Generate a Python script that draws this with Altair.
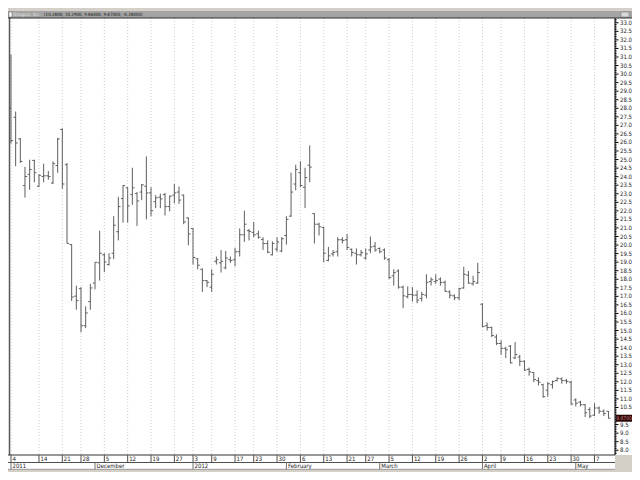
import altair as alt
import numpy as np
import pandas as pd

# ---------------- data ----------------
holidays = ["2011-11-24", "2011-12-26", "2012-01-02", "2012-01-16", "2012-02-20", "2012-04-06"]
trade_dates = [d.strftime("%Y-%m-%d") for d in pd.bdate_range("2011-11-04", "2012-05-10")
               if d.strftime("%Y-%m-%d") not in holidays]

opens = [28.00, 27.47, 26.21, 23.48, 24.14, 24.95, 23.44, 24.01, 24.05, 23.63,
         24.65, 26.76, 24.70, 20.03, 17.01, 17.45, 15.28, 16.69, 17.78, 18.96,
         19.43, 18.86, 19.52, 20.78, 22.72, 23.35, 22.95, 23.01, 23.10, 23.44,
         23.05, 22.54, 22.80, 22.95, 22.25, 22.92, 23.10, 22.92, 21.59, 20.97,
         19.20, 18.58, 17.92, 17.54, 19.05, 18.96, 18.67, 19.14, 19.14, 19.61,
         20.60, 20.84, 20.74, 20.65, 20.33, 20.09, 19.43, 19.76, 19.65, 20.56,
         21.69, 23.57, 24.23, 23.38, 24.67, 21.84, 21.22, 21.03, 19.10, 19.48,
         19.61, 20.31, 20.31, 19.75, 19.52, 19.43, 19.24, 19.71, 19.93, 19.80,
         19.71, 19.14, 18.20, 18.48, 17.54, 16.98, 17.11, 17.07, 16.88, 17.07,
         17.86, 17.86, 18.01, 17.82, 17.26, 17.03, 16.92, 17.49, 18.24, 17.73,
         17.78, 16.54, 15.28, 15.18, 14.62, 14.24, 13.96, 14.09, 13.40, 13.45,
         13.20, 12.73, 12.54, 12.07, 11.83, 11.51, 11.83, 12.07, 12.17, 12.07,
         11.98, 10.94, 10.81, 10.66, 10.38, 10.05, 10.47, 10.28, 10.28]
highs = [31.14, 27.81, 26.25, 24.57, 24.99, 24.99, 24.14, 24.76, 24.33, 24.90,
         26.27, 26.83, 24.80, 20.05, 17.63, 17.54, 16.41, 17.73, 19.00, 20.84,
         19.52, 19.52, 21.69, 22.82, 23.50, 23.38, 24.52, 23.10, 23.57, 25.18,
         23.38, 22.92, 23.01, 23.05, 22.90, 23.57, 23.42, 22.95, 21.62, 21.00,
         19.24, 18.63, 17.95, 18.58, 19.33, 19.71, 19.65, 19.33, 19.84, 20.97,
         22.01, 20.94, 21.35, 20.84, 20.46, 20.27, 20.22, 20.46, 20.46, 21.69,
         24.23, 24.70, 24.90, 24.52, 25.83, 21.87, 21.31, 21.07, 19.89, 19.71,
         20.46, 20.46, 20.65, 19.80, 19.80, 19.71, 19.80, 20.50, 20.18, 19.86,
         19.80, 19.24, 18.58, 18.58, 17.63, 17.58, 17.54, 17.35, 17.26, 18.29,
         18.11, 18.29, 18.11, 17.92, 17.35, 17.11, 17.50, 18.73, 18.48, 18.20,
         18.96, 16.60, 15.47, 15.22, 14.77, 14.43, 14.05, 14.15, 14.33, 13.58,
         13.26, 12.83, 12.58, 12.26, 11.89, 11.98, 12.07, 12.26, 12.26, 12.17,
         12.07, 11.04, 10.89, 10.70, 10.51, 10.75, 10.56, 10.38, 10.29]
lows = [25.93, 24.61, 24.80, 22.78, 23.23, 23.67, 23.39, 23.67, 23.82, 23.57,
        24.23, 23.29, 20.09, 16.73, 16.22, 14.90, 15.14, 16.22, 17.41, 17.92,
        18.42, 18.80, 19.18, 20.27, 21.31, 21.31, 22.35, 21.12, 22.63, 21.50,
        21.69, 22.16, 22.16, 21.73, 21.97, 22.44, 22.41, 21.22, 19.99, 18.86,
        18.58, 17.26, 17.54, 17.26, 18.86, 18.39, 18.58, 18.96, 18.76, 19.33,
        20.18, 20.27, 20.46, 20.37, 19.71, 19.52, 19.39, 19.61, 19.58, 20.03,
        21.65, 23.20, 23.38, 22.16, 23.67, 20.09, 20.56, 18.99, 19.05, 19.33,
        19.33, 20.09, 19.71, 19.33, 18.86, 19.33, 19.14, 19.52, 19.61, 19.52,
        19.14, 18.01, 17.63, 17.45, 16.31, 16.88, 16.69, 16.60, 16.69, 16.88,
        17.63, 17.73, 17.63, 17.26, 16.88, 16.78, 16.78, 17.45, 17.73, 17.63,
        17.73, 15.20, 15.00, 14.62, 14.15, 13.58, 13.39, 13.07, 13.33, 12.92,
        12.64, 12.36, 11.98, 11.79, 11.07, 11.13, 11.60, 12.02, 11.89, 11.89,
        10.66, 10.56, 10.56, 9.94, 9.87, 10.00, 10.13, 10.00, 9.86]
closes = [26.11, 25.97, 24.89, 24.01, 24.42, 24.23, 24.08, 24.05, 24.01, 24.76,
          26.21, 23.57, 20.10, 16.96, 16.75, 15.28, 16.03, 17.49, 18.99, 19.52,
          19.01, 19.24, 21.16, 22.25, 23.48, 22.29, 23.35, 22.58, 23.52, 23.05,
          22.01, 22.76, 22.70, 22.25, 22.86, 23.05, 22.63, 21.35, 20.65, 19.27,
          18.82, 17.92, 17.82, 18.29, 19.14, 19.05, 19.24, 19.09, 19.61, 20.60,
          21.22, 20.80, 20.60, 20.46, 20.09, 19.58, 20.09, 20.18, 20.37, 21.50,
          23.10, 24.42, 23.48, 23.95, 24.56, 21.22, 21.07, 19.52, 19.37, 19.56,
          20.31, 20.27, 19.86, 19.56, 19.43, 19.56, 19.48, 19.89, 19.71, 19.61,
          19.24, 18.11, 18.39, 17.54, 17.03, 17.11, 17.07, 16.78, 17.11, 17.82,
          17.97, 17.92, 17.82, 17.29, 17.07, 16.92, 17.45, 18.29, 17.78, 17.86,
          18.39, 15.24, 15.18, 14.71, 14.24, 13.96, 13.87, 13.11, 13.60, 13.20,
          12.69, 12.58, 12.13, 11.98, 11.13, 11.89, 12.02, 12.20, 12.07, 12.02,
          10.70, 10.75, 10.66, 10.19, 10.00, 10.47, 10.28, 10.15, 9.87]

week_label_dates = ["2011-11-04", "2011-11-14", "2011-11-21", "2011-11-28", "2011-12-05",
                    "2011-12-12", "2011-12-19", "2011-12-27", "2012-01-03", "2012-01-09",
                    "2012-01-17", "2012-01-23", "2012-01-30", "2012-02-06", "2012-02-13",
                    "2012-02-21", "2012-02-27", "2012-03-05", "2012-03-12", "2012-03-19",
                    "2012-03-26", "2012-04-02", "2012-04-09", "2012-04-16", "2012-04-23",
                    "2012-04-30", "2012-05-07"]
week_labels = ["4", "14", "21", "28", "5", "12", "19", "27", "3", "9", "17", "23", "30",
               "6", "13", "21", "27", "5", "12", "19", "26", "2", "9", "16", "23", "30", "7"]
month_label_dates = ["2011-11-04", "2011-12-01", "2012-01-03", "2012-02-01",
                     "2012-03-01", "2012-04-02", "2012-05-01"]
month_labels = ["2011", "December", "2012", "February", "March", "April", "May"]

header_name = "Groupon, Inc."
header_values = "(10.2800, 10.2900, 9.86000, 9.87000, -0.28000)"

price_ticks = [float(round(v, 1)) for v in np.arange(8.0, 33.01, 0.5)]
minor_ticks = [float(round(v, 1)) for v in np.arange(7.8, 33.25, 0.1)
               if abs(v * 2 - round(v * 2)) > 1e-6]

# ---------------- frames ----------------
idx_of = {d: i for i, d in enumerate(trade_dates)}
bars = pd.DataFrame({"date": trade_dates, "open": opens, "high": highs,
                     "low": lows, "close": closes})
bars["idx"] = range(len(bars))
weeks = pd.DataFrame({"idx": [idx_of[d] for d in week_label_dates], "label": week_labels})
months = pd.DataFrame({"idx": [idx_of[d] for d in month_label_dates], "label": month_labels})
last_close = closes[-1]
# labels hidden under the last-price box are not shown (as in the reference)
major_all = pd.DataFrame({"p": price_ticks, "label": [f"{v:.1f}" for v in price_ticks]})
major_lab = major_all[(major_all["p"] - last_close).abs() > 0.3]
minor = pd.DataFrame({"p": minor_ticks})
last = pd.DataFrame({"p": [last_close], "label": [f"{last_close:.4f}"]})
one = pd.DataFrame({"a": [0]})

W, H = 605, 437
PR, PB = 17, 17
FONT = "Liberation Sans Narrow, DejaVu Sans Condensed, Liberation Sans, sans-serif"
BAR = "#5e5e5e"

xs = alt.Scale(domain=[-0.21, 129.4], nice=False, zero=False)
ys = alt.Scale(domain=[7.72, 33.28], nice=False, zero=False)
X = lambda f: alt.X(f, scale=xs, axis=None, title=None)
Y = lambda f: alt.Y(f, scale=ys, axis=None, title=None)

# header band
hdr_light = alt.Chart(one).mark_rect(color="#d4d0c8").encode(
    x=alt.value(-2), x2=alt.value(W + PR), y=alt.value(-10), y2=alt.value(-7))
hdr_band = alt.Chart(one).mark_rect(color="#a4a4a4").encode(
    x=alt.value(-2), x2=alt.value(W + PR), y=alt.value(-7), y2=alt.value(0))
hdr_box = alt.Chart(one).mark_rect(color="#ffffff", stroke="#606060", strokeWidth=0.5).encode(
    x=alt.value(-1), x2=alt.value(2), y=alt.value(-6), y2=alt.value(-1))
hdr_icon = alt.Chart(one).mark_rect(color="#d8d8d8", stroke="#707070", strokeWidth=0.5).encode(
    x=alt.value(W + 6), x2=alt.value(W + 14), y=alt.value(-6), y2=alt.value(-1))
hdr_name = alt.Chart(one).mark_text(align="left", baseline="middle", fontSize=4.5,
                                    font=FONT, color="#e4e4e4").encode(
    x=alt.value(3), y=alt.value(-3.3), text=alt.value(header_name))
hdr_vals = alt.Chart(one).mark_text(align="left", baseline="middle", fontSize=4.5,
                                    font=FONT, color="#111111").encode(
    x=alt.value(34), y=alt.value(-3.3), text=alt.value(header_values))
top_line = alt.Chart(one).mark_rule(color="#303030", strokeWidth=1).encode(
    x=alt.value(-2), x2=alt.value(W + PR), y=alt.value(0))

# grid
grid = alt.Chart(weeks).mark_rule(color="#cccccc", strokeDash=[1, 2], strokeWidth=1).encode(
    x=X("idx:Q"), y=alt.value(0), y2=alt.value(H))

# OHLC
hl = alt.Chart(bars).mark_rule(color=BAR, strokeWidth=1).encode(
    x=X("idx:Q"), y=Y("low:Q"), y2="high:Q")
op = alt.Chart(bars).transform_calculate(xo="datum.idx - 0.45").mark_rule(
    color=BAR, strokeWidth=1).encode(x=X("xo:Q"), x2="idx:Q", y=Y("open:Q"))
cl = alt.Chart(bars).transform_calculate(xc="datum.idx + 0.45").mark_rule(
    color=BAR, strokeWidth=1).encode(x=X("idx:Q"), x2="xc:Q", y=Y("close:Q"))

# left border
left = alt.Chart(one).mark_rule(color="#5a5a5a", strokeWidth=1.5).encode(
    x=alt.value(-0.5), y=alt.value(0), y2=alt.value(H))

# right price axis (drawn by hand)
ydom = alt.Chart(one).mark_rule(color="#000000", strokeWidth=1).encode(
    x=alt.value(W), y=alt.value(0), y2=alt.value(H))
mticks = alt.Chart(minor).mark_rule(color="#000000", strokeWidth=1).encode(
    x=alt.value(W), x2=alt.value(W + 1.5), y=Y("p:Q"))
jticks = alt.Chart(major_all).mark_rule(color="#000000", strokeWidth=1).encode(
    x=alt.value(W), x2=alt.value(W + 3.5), y=Y("p:Q"))
jlabels = alt.Chart(major_lab).mark_text(align="left", baseline="middle", fontSize=6,
                                         font=FONT, color="#222222").encode(
    x=alt.value(W + 5), y=Y("p:Q"), text="label:N")

# last price box
lbox = alt.Chart(last).mark_rect(color="#2a0505", height=7).encode(
    x=alt.value(W + 1), x2=alt.value(W + PR), y=Y("p:Q"))
ltxt = alt.Chart(last).mark_text(align="center", baseline="middle", fontSize=5,
                                 font=FONT, color="#d08080").encode(
    x=alt.value(W + 9), y=Y("p:Q"), text="label:N")

# bottom date axis
r1, r2, r3 = H + 7.5, H + 14.3, H + PB
bot_gray = alt.Chart(one).mark_rect(color="#d4d0c8").encode(
    x=alt.value(-2), x2=alt.value(W + PR), y=alt.value(r2), y2=alt.value(r3))
corner = alt.Chart(one).mark_rect(color="#d4d0c8").encode(
    x=alt.value(W), x2=alt.value(W + PR), y=alt.value(H), y2=alt.value(r3))
hl0 = alt.Chart(one).mark_rule(color="#303030", strokeWidth=1).encode(
    x=alt.value(-2), x2=alt.value(W), y=alt.value(H))
hl1 = alt.Chart(one).mark_rule(color="#505050", strokeWidth=1).encode(
    x=alt.value(-2), x2=alt.value(W), y=alt.value(r1))
hl2 = alt.Chart(one).mark_rule(color="#9a9a9a", strokeWidth=1).encode(
    x=alt.value(-2), x2=alt.value(W), y=alt.value(r2))
wsep = alt.Chart(weeks).mark_rule(color="#505050", strokeWidth=1).encode(
    x=X("idx:Q"), y=alt.value(H), y2=alt.value(r1))
wtxt = alt.Chart(weeks).mark_text(align="left", baseline="middle", fontSize=6, font=FONT,
                                  color="#222222", dx=1.5).encode(
    x=X("idx:Q"), y=alt.value(H + 4), text="label:N")
msep = alt.Chart(months).mark_rule(color="#707070", strokeWidth=1).encode(
    x=X("idx:Q"), y=alt.value(r1), y2=alt.value(r2))
mtxt = alt.Chart(months).mark_text(align="left", baseline="middle", fontSize=6, font=FONT,
                                   color="#222222", dx=1.5).encode(
    x=X("idx:Q"), y=alt.value(H + 11), text="label:N")

chart = alt.layer(
    hdr_light, hdr_band, hdr_box, hdr_icon, hdr_name, hdr_vals,
    grid, hl, op, cl, left,
    bot_gray, corner, hl0, hl1, hl2, wsep, wtxt, msep, mtxt,
    ydom, mticks, jticks, jlabels,
    top_line, lbox, ltxt,
).properties(
    width=W, height=H,
    padding={"left": 2, "top": 10, "right": PR, "bottom": PB},
    autosize=alt.AutoSizeParams(type="none"),
    background="#ffffff",
).configure_view(stroke=None)

chart.save("out.html", embed_options={"renderer": "svg", "actions": False})
